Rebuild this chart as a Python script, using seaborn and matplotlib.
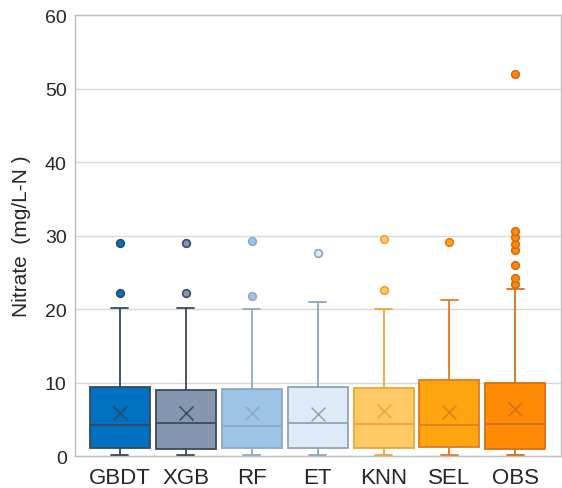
import numpy as np
import pandas as pd
import matplotlib
matplotlib.use("Agg")
import matplotlib.pyplot as plt
import seaborn as sns

# Models and their nitrate distribution summaries (mg/L-N)
models = ["GBDT", "XGB", "RF", "ET", "KNN", "SEL", "OBS"]
whisker_low = [0.18, 0.18, 0.18, 0.18, 0.18, 0.18, 0.18]
q1 = [1.05, 1.0, 1.05, 1.05, 1.14, 1.18, 1.0]
median = [4.24, 4.47, 4.05, 4.56, 4.42, 4.19, 4.42]
q3 = [9.33, 9.0, 9.1, 9.4, 9.2, 10.3, 9.9]
whisker_high = [20.1, 20.2, 20.0, 20.9, 20.0, 21.3, 22.7]
means = [5.9, 5.9, 5.9, 5.7, 6.06, 6.0, 6.4]
outliers = [
    [22.2, 29.0],
    [22.2, 29.0],
    [21.8, 29.2],
    [27.6],
    [22.6, 29.6],
    [29.1],
    [23.4, 24.2, 26.0, 28.0, 28.9, 29.8, 30.6, 52.0],
]

fill_colors = ["#0070C0", "#8497B0", "#9DC3E6", "#DEEBF7", "#FFCA66", "#FFA50F", "#FF8A05"]
edge_colors = ["#2E4A66", "#3E4A5A", "#8FA9C6", "#8EA3BD", "#F0A535", "#E57A1E", "#D46E18"]

# Long-form table whose quartiles, whiskers and fliers reproduce the summaries above
k = 9
rows = []
for i, m in enumerate(models):
    vals = ([whisker_low[i]] * k + [q1[i]] * k + [median[i]] * k + [q3[i]]
            + [whisker_high[i]] * (k - len(outliers[i])) + list(outliers[i]))
    rows += [(m, v) for v in vals]
df = pd.DataFrame(rows, columns=["model", "nitrate"])
mean_df = pd.DataFrame({"model": models, "mean": means})

sns.set_theme(style="white")
plt.rcParams["font.family"] = ["Liberation Sans", "DejaVu Sans"]

fig = plt.figure(figsize=(5.62, 4.89), dpi=100)
ax = fig.add_axes([0.1335, 0.0654, 0.8645, 0.9016])

for i, m in enumerate(models):
    sns.boxplot(
        data=df[df["model"] == m], x="model", y="nitrate", order=models,
        color=fill_colors[i], linecolor=edge_colors[i], saturation=1,
        width=0.91, linewidth=1.3, whis=1.5, capwidths=0.26,
        flierprops=dict(marker="o", markersize=5.5, markerfacecolor=fill_colors[i],
                        markeredgecolor=edge_colors[i], markeredgewidth=1.2),
        ax=ax, zorder=3,
    )

# Mean markers
sns.stripplot(
    data=mean_df, x="model", y="mean", order=models, hue="model",
    palette=dict(zip(models, edge_colors)), marker="x", jitter=False,
    size=10, linewidth=1.1, legend=False, ax=ax, zorder=5,
)

ax.set_ylim(0, 60)
ax.set_xlim(-0.68, 6.69)
ax.set_yticks(np.arange(0, 61, 10))
ax.yaxis.grid(True, color="#D9D9D9", linewidth=1)
ax.set_axisbelow(True)
ax.set_xlabel("")
ax.set_ylabel("Nitrate  (mg/L-N )", fontsize=15, labelpad=10)
ax.tick_params(axis="x", labelsize=16, length=0, pad=8)
ax.tick_params(axis="y", labelsize=14, length=0, pad=6)
for s in ax.spines.values():
    s.set_visible(True)
    s.set_color("#BFBFBF")
    s.set_linewidth(1)

fig.savefig("out.png", dpi=100)
